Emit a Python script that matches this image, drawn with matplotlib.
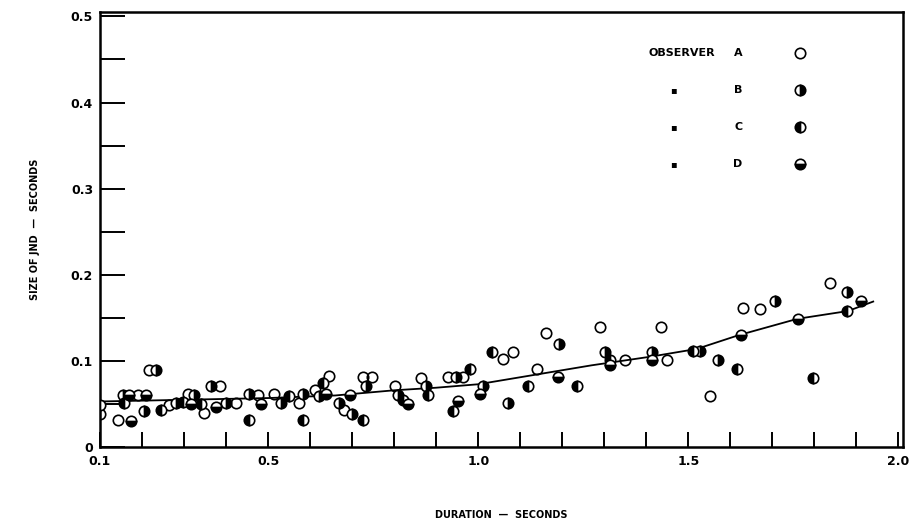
import matplotlib
matplotlib.use("Agg")
import matplotlib.pyplot as plt

# observer data (duration s, jnd s)
a_x = [0.10, 0.143, 0.19, 0.216, 0.264, 0.31, 0.347, 0.385, 0.423, 0.475, 0.513,
       0.573, 0.611, 0.644, 0.68, 0.725, 0.748, 0.803, 0.865, 0.927, 0.965, 1.06,
       1.083, 1.14, 1.162, 1.29, 1.349, 1.435, 1.449, 1.551, 1.63, 1.67, 1.836]
a_y = [0.039, 0.032, 0.060, 0.090, 0.049, 0.062, 0.040, 0.071, 0.051, 0.061, 0.062,
       0.051, 0.066, 0.083, 0.043, 0.082, 0.082, 0.071, 0.080, 0.082, 0.082, 0.102,
       0.111, 0.091, 0.132, 0.140, 0.101, 0.140, 0.101, 0.059, 0.161, 0.160, 0.190]

b_x = [0.155, 0.205, 0.233, 0.28, 0.323, 0.364, 0.40, 0.454, 0.53, 0.582, 0.62,
       0.668, 0.70, 0.734, 0.81, 0.875, 0.946, 1.012, 1.071, 1.193, 1.302, 1.414,
       1.527, 1.57, 1.706, 1.877]
b_y = [0.061, 0.042, 0.090, 0.051, 0.060, 0.071, 0.051, 0.062, 0.051, 0.062, 0.059,
       0.051, 0.039, 0.071, 0.061, 0.071, 0.082, 0.071, 0.051, 0.120, 0.111, 0.111,
       0.112, 0.101, 0.170, 0.180]

c_x = [0.10, 0.157, 0.245, 0.297, 0.34, 0.454, 0.549, 0.582, 0.63, 0.725, 0.822,
       0.881, 0.941, 0.981, 1.033, 1.119, 1.235, 1.314, 1.511, 1.615, 1.796, 1.877]
c_y = [0.049, 0.051, 0.043, 0.052, 0.050, 0.032, 0.059, 0.032, 0.074, 0.031, 0.055,
       0.060, 0.042, 0.091, 0.111, 0.071, 0.071, 0.101, 0.112, 0.091, 0.080, 0.158]

d_x = [0.169, 0.174, 0.21, 0.316, 0.376, 0.482, 0.637, 0.696, 0.834, 0.953, 1.005,
       1.19, 1.314, 1.414, 1.625, 1.76, 1.912]
d_y = [0.061, 0.030, 0.060, 0.050, 0.047, 0.050, 0.062, 0.060, 0.050, 0.053, 0.062,
       0.082, 0.095, 0.101, 0.130, 0.149, 0.170]

# fitted curve as drawn
fit_x = [0.10, 0.50, 0.66, 0.80, 0.90, 1.00, 1.27, 1.41, 1.52, 1.62, 1.76, 1.88, 1.94]
fit_y = [0.053, 0.057, 0.060, 0.066, 0.069, 0.073, 0.095, 0.105, 0.114, 0.130, 0.149, 0.158, 0.169]

x_ticks = [0.1, 0.2, 0.3, 0.4, 0.5, 0.6, 0.7, 0.8, 0.9, 1.0, 1.1, 1.2, 1.3, 1.4,
           1.5, 1.6, 1.7, 1.8, 1.9, 2.0]
x_labels = ["0.1", "", "", "", "0.5", "", "", "", "", "1.0", "", "", "", "",
            "1.5", "", "", "", "", "2.0"]
y_ticks = [0, 0.05, 0.1, 0.15, 0.2, 0.25, 0.3, 0.35, 0.4, 0.45, 0.5]
y_labels = ["0", "", "0.1", "", "0.2", "", "0.3", "", "0.4", "", "0.5"]

observers = ["A", "B", "C", "D"]
fills = ["none", "right", "left", "bottom"]

plt.rcParams['font.family'] = ['DejaVu Sans']
plt.rcParams['font.weight'] = 'bold'

fig = plt.figure(figsize=(9.09, 5.23), dpi=100)
ax = fig.add_axes([0.110, 0.145, 0.883, 0.832])

ax.plot(fit_x, fit_y, color='black', lw=1.3, zorder=2)

series = [(a_x, a_y), (b_x, b_y), (c_x, c_y), (d_x, d_y)]
for (xs, ys), fs in zip(series, fills):
    ax.plot(xs, ys, linestyle='', marker='o', markersize=7.5, fillstyle=fs,
            markerfacecolor='black', markerfacecoloralt='white',
            markeredgecolor='black', markeredgewidth=1.2, zorder=3)

ax.set_xlim(0.1, 2.01)
ax.set_ylim(0, 0.505)
ax.set_xticks(x_ticks)
ax.set_xticklabels(x_labels)
ax.set_yticks(y_ticks)
ax.set_yticklabels(y_labels)
ax.tick_params(axis='x', direction='in', length=11, width=1.4, pad=6, labelsize=9)
ax.tick_params(axis='y', direction='in', length=18, width=1.4, pad=5, labelsize=9)
for s in ax.spines.values():
    s.set_linewidth(1.8)

ax.set_xlabel("DURATION  —  SECONDS", fontsize=7, fontweight='bold')
ax.set_ylabel("SIZE OF JND  —  SECONDS", fontsize=7, fontweight='bold')
ax.xaxis.set_label_coords(0.5, -0.145)
ax.yaxis.set_label_coords(-0.075, 0.5)

# key in the upper right
rows = [0.906, 0.821, 0.736, 0.651]
ax.text(0.766, rows[0], "OBSERVER", transform=ax.transAxes, ha='right',
        va='center', fontsize=8, fontweight='bold')
for i, (name, fs) in enumerate(zip(observers, fills)):
    if i > 0:
        ax.text(0.715, rows[i], "\u25aa", transform=ax.transAxes, ha='center',
                va='center', fontsize=7)
    ax.text(0.795, rows[i], name, transform=ax.transAxes, ha='center',
            va='center', fontsize=8, fontweight='bold')
    ax.plot([0.872], [rows[i]], transform=ax.transAxes, linestyle='',
            marker='o', markersize=7.5, fillstyle=fs, markerfacecolor='black',
            markerfacecoloralt='white', markeredgecolor='black',
            markeredgewidth=1.2)

fig.savefig("out.png", dpi=100)
